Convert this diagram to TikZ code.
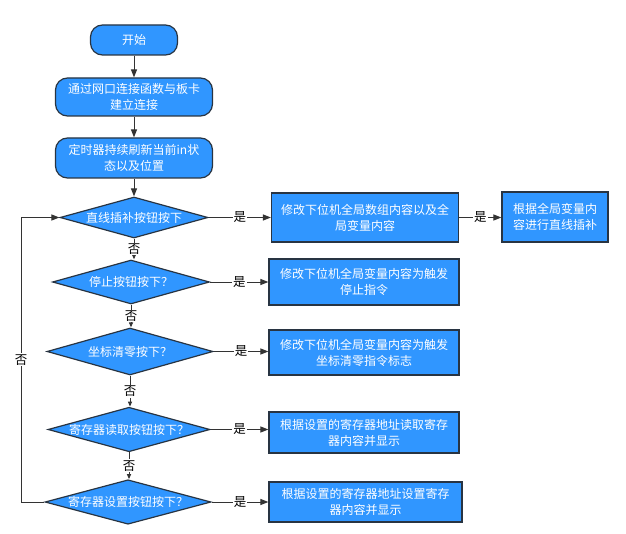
\documentclass[tikz,border=0pt]{standalone}
\usepackage{fontspec}
\setmainfont{Noto Sans CJK SC}
\usetikzlibrary{shapes.geometric,arrows.meta}
\definecolor{boxblue}{RGB}{48,150,255}
\definecolor{boxedge}{RGB}{40,52,66}
\definecolor{linegray}{RGB}{51,51,51}
\begin{document}
\begin{tikzpicture}[x=1bp,y=-1bp,
 base/.style={draw=boxedge, line width=1.2bp, fill=boxblue, text=white, font=\fontsize{12bp}{16bp}\selectfont, align=center, inner sep=0pt},
 rbox/.style={base, rounded corners=12bp},
 sbox/.style={base},
 dec/.style={base, diamond, aspect=3.6},
 arr/.style={draw=linegray, line width=1bp, -{Triangle[length=8bp,width=6bp]}},
 sarr/.style={draw=linegray, line width=1bp, -{Triangle[length=5bp,width=4bp]}},
 lab/.style={fill=white, text=black, font=\fontsize{12.5bp}{12.5bp}\selectfont, inner sep=1bp}
]
\useasboundingbox[fill=white] (0,0) rectangle (626,534);
% left column
\node[rbox, minimum width=87bp, minimum height=30bp] (start) at (134,40) {开始};
\node[rbox, minimum width=157bp, minimum height=38bp] (conn) at (134,97) {通过网口连接函数与板卡\\建立连接};
\node[rbox, minimum width=157bp, minimum height=40bp] (timer) at (134,158) {定时器持续刷新当前in状\\态以及位置};
\node[dec, minimum width=148bp, minimum height=41bp] (d1) at (134,217.5) {直线插补按钮按下};
\node[dec, minimum width=157bp, minimum height=44bp] (d2) at (131,282) {停止按钮按下？};
\node[dec, minimum width=166bp, minimum height=47bp] (d3) at (130,351.5) {坐标清零按下？};
\node[dec, minimum width=162bp, minimum height=43bp] (d4) at (129,429.5) {寄存器读取按钮按下？};
\node[dec, minimum width=166bp, minimum height=44bp] (d5) at (128,502) {寄存器设置按钮按下？};
% right column
\node[sbox, minimum width=187bp, minimum height=49bp] (r1) at (365,217.5) {修改下位机全局数组内容以及全\\局变量内容};
\node[sbox, minimum width=106bp, minimum height=50bp] (r1b) at (555,217) {根据全局变量内\\容进行直线插补};
\node[sbox, minimum width=190bp, minimum height=46bp] (r2) at (364,282) {修改下位机全局变量内容为触发\\停止指令};
\node[sbox, minimum width=190bp, minimum height=45bp] (r3) at (364,352.5) {修改下位机全局变量内容为触发\\坐标清零指令标志};
\node[sbox, minimum width=190bp, minimum height=41bp] (r4) at (364,432.5) {根据设置的寄存器地址读取寄存\\器内容并显示};
\node[sbox, minimum width=193bp, minimum height=40bp] (r5) at (365.5,502) {根据设置的寄存器地址设置寄存\\器内容并显示};
% main flow
\draw[arr] (start) -- (conn);
\draw[arr] (conn) -- (timer);
\draw[arr] (timer) -- (timer |- d1.north);
% yes branches
\draw[arr] (d1.east) -- node[lab] {是} (d1.east -| r1.west);
\draw[arr] (r1.east) -- node[lab] {是} (r1.east -| r1b.west);
\draw[arr] (d2.east) -- node[lab] {是} (d2.east -| r2.west);
\draw[arr] (d3.east) -- node[lab] {是} (d3.east -| r3.west);
\draw[arr] (d4.east) -- node[lab] {是} (d4.east -| r4.west);
\draw[arr] (d5.east) -- node[lab] {是} (d5.east -| r5.west);
% no branches
\draw[sarr] (d1.south) -- node[lab] {否} (d1.south |- d2.north);
\draw[sarr] (d2.south) -- node[lab] {否} (d2.south |- d3.north);
\draw[sarr] (d3.south) -- node[lab] {否} (d3.south |- d4.north);
\draw[sarr] (d4.south) -- node[lab] {否} (d4.south |- d5.north);
% loop back
\coordinate (loopx) at (21,0);
\draw[arr] (d5.west) -- (d5.west -| loopx) -- node[lab] {否} (d1.west -| loopx) -- (d1.west);
\end{tikzpicture}
\end{document}
